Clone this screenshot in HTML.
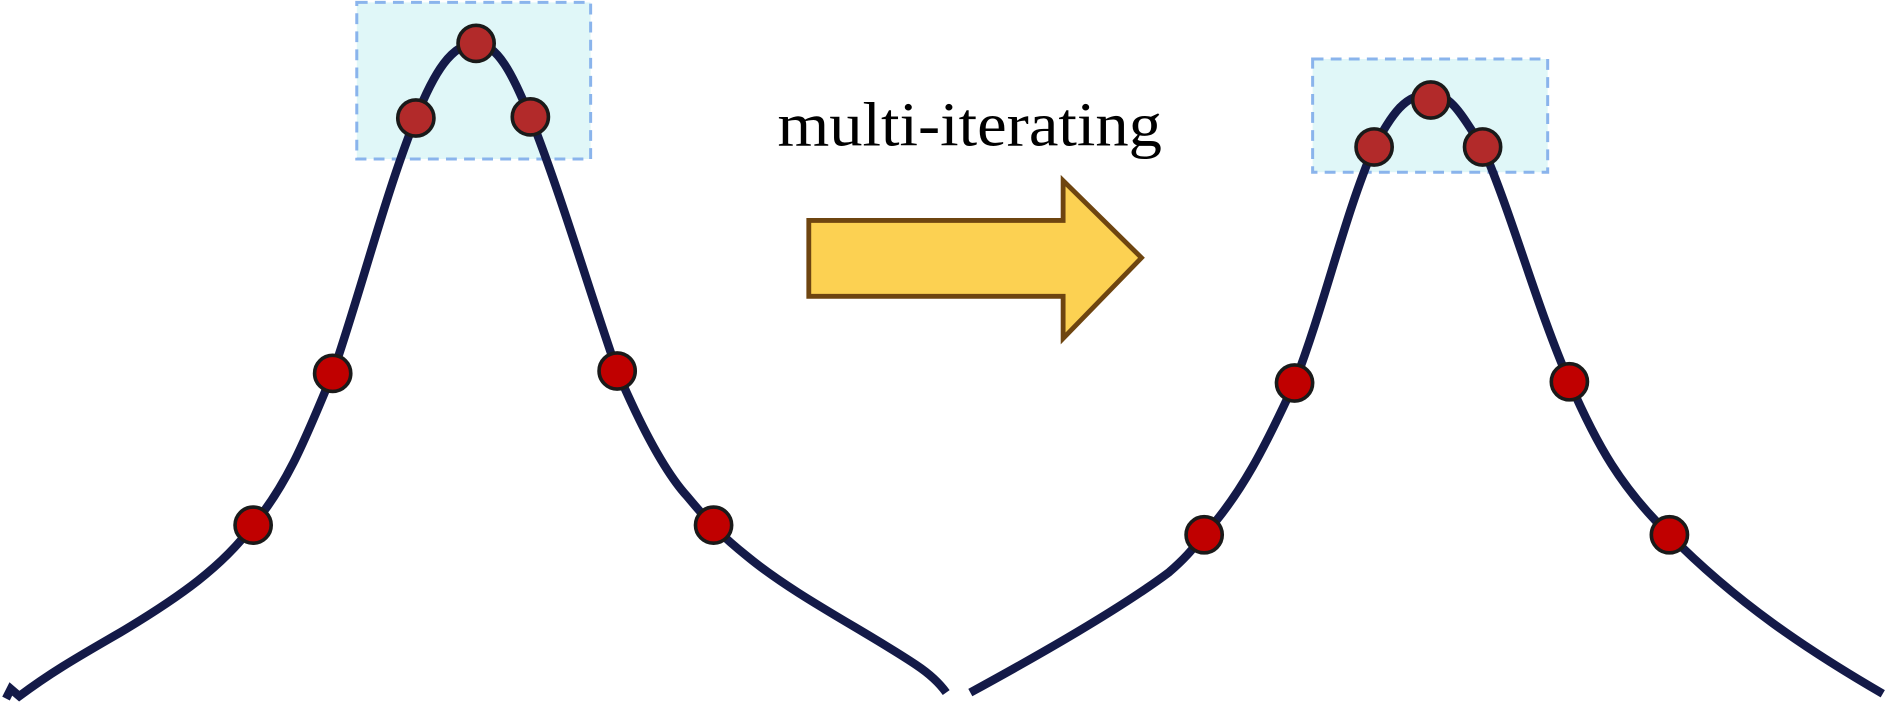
<!DOCTYPE html>
<html><head><meta charset="utf-8"><style>
html,body{margin:0;padding:0;background:#fff;width:1890px;height:707px;overflow:hidden}
svg{display:block}
</style></head><body>
<svg width="1890" height="707" viewBox="0 0 1568 587" preserveAspectRatio="none" xmlns="http://www.w3.org/2000/svg">
<rect x="296" y="2" width="194" height="130" fill="#e0f7f8" stroke="#8ab4ec" stroke-width="2.5" stroke-dasharray="9,6"/>
<rect x="1089" y="49" width="195" height="94" fill="#e0f7f8" stroke="#8ab4ec" stroke-width="2.5" stroke-dasharray="9,6"/>
<path d="M5,580 L9,572 L16,578 C40,560 60,548 100,525 C150,495 185,470 210,436 C240,400 255,360 276,310 C300,240 320,160 345,98 C360,60 375,36 395,36 C415,36 428,70 440,97 C465,160 490,245 512,308 C530,350 550,390 570,412 C590,436 600,446 620,462 C660,495 720,525 760,552 C772,560 780,568 785,575" fill="none" stroke="#141a48" stroke-width="7"/>
<path d="M805,575 C860,545 930,505 970,475 C985,462 990,455 999,444 C1030,410 1050,370 1074,318 C1100,250 1115,180 1140,122 C1155,95 1165,78 1187,78 C1205,78 1215,100 1230,122 C1255,180 1275,255 1302,317 C1325,370 1345,405 1385,444 C1440,500 1500,540 1562,576" fill="none" stroke="#141a48" stroke-width="7"/>
<g stroke="#1a1a1a" stroke-width="3">
<circle cx="210" cy="436" r="15" fill="#c00000"/>
<circle cx="276" cy="310" r="15" fill="#c00000"/>
<circle cx="345" cy="98" r="15" fill="#b22a2a"/>
<circle cx="395" cy="36" r="15" fill="#b22a2a"/>
<circle cx="440" cy="97" r="15" fill="#b22a2a"/>
<circle cx="512" cy="308" r="15" fill="#c00000"/>
<circle cx="592" cy="436" r="15" fill="#c00000"/>
<circle cx="999" cy="444" r="15" fill="#c00000"/>
<circle cx="1074" cy="318" r="15" fill="#c00000"/>
<circle cx="1140" cy="122" r="15" fill="#b22a2a"/>
<circle cx="1187" cy="83" r="15" fill="#b22a2a"/>
<circle cx="1230" cy="122" r="15" fill="#b22a2a"/>
<circle cx="1302" cy="317" r="15" fill="#c00000"/>
<circle cx="1385" cy="444" r="15" fill="#c00000"/>
</g>
<path d="M671,183 L882,183 L882,150 L947,214 L882,281 L882,246 L671,246 Z" fill="#fcd152" stroke="#6e4510" stroke-width="4"/>
<text x="645" y="121" font-family="Liberation Serif, serif" font-size="52" textLength="319" lengthAdjust="spacingAndGlyphs" fill="#000">multi-iterating</text>
</svg>
</body></html>
